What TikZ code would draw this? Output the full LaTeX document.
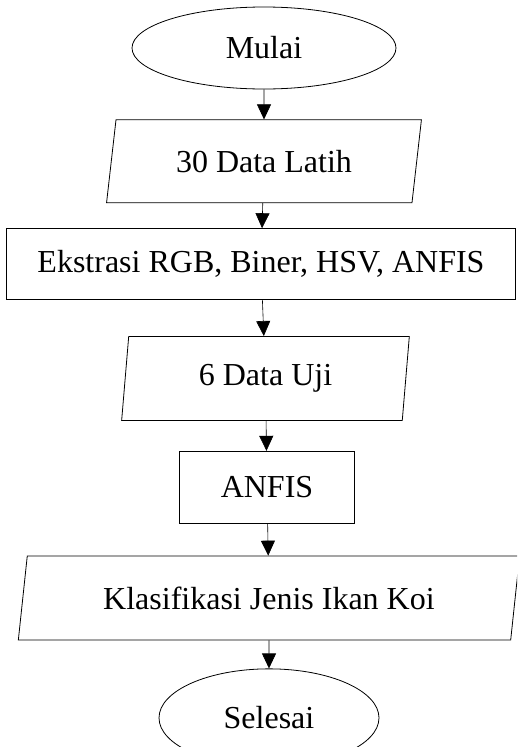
\documentclass[tikz,border=0pt]{standalone}
\usepackage{fontspec}
\setmainfont{Liberation Serif}
\usetikzlibrary{shapes.geometric, arrows.meta, positioning}

\begin{document}
\begin{tikzpicture}[x=1pt, y=-1pt, font=\fontsize{32}{38}\selectfont]
      \tikzstyle{startstop} = [ellipse, inner sep=0pt, text centered, draw=black, line width=0.8pt]
      \tikzstyle{io} = [trapezium, trapezium stretches=true, inner sep=0pt, text centered, draw=black, line width=0.8pt]
      \tikzstyle{process} = [rectangle, inner sep=0pt, text centered, draw=black, line width=0.8pt]
      \tikzstyle{arrow} = [line width=0.6pt, -{Triangle[length=15pt, width=14pt]}]

      \clip (0,0) rectangle (517,747);

      \node (start) [startstop, minimum width=264pt, minimum height=82pt] at (264,48) {Mulai};
      \node (in1) [io, trapezium left angle=76, trapezium right angle=104, minimum width=315pt, minimum height=83pt, below=30pt of start] {30 Data Latih};
      \draw [arrow] (start) -- (in1);
      \node (pro1) [process, minimum width=509pt, minimum height=71pt, below=25pt of in1, xshift=-3pt] {Ekstrasi RGB, Biner, HSV, ANFIS};
      \draw [arrow] (in1) -- (pro1);
      \node (in2) [io, trapezium left angle=83, trapezium right angle=97, minimum width=288pt, minimum height=84pt, below=36pt of pro1, xshift=4.5pt] {6 Data Uji};
      \draw [arrow] (pro1) -- (in2);
      \node (pro2) [process, minimum width=175pt, minimum height=72pt, below=30pt of in2, xshift=1.5pt] {ANFIS};
      \draw [arrow] (in2) -- (pro2);
      \node (out) [io, trapezium left angle=75, trapezium right angle=105, minimum width=503pt, minimum height=84pt, below=32pt of pro2, xshift=2pt] {Klasifikasi Jenis Ikan Koi};
      \draw [arrow] (pro2) -- (out);
      \node (stop) [startstop, minimum width=220pt, minimum height=98pt, below=28pt of out] {Selesai};
      \draw [arrow] (out) -- (stop);

\end{tikzpicture}
\end{document}
